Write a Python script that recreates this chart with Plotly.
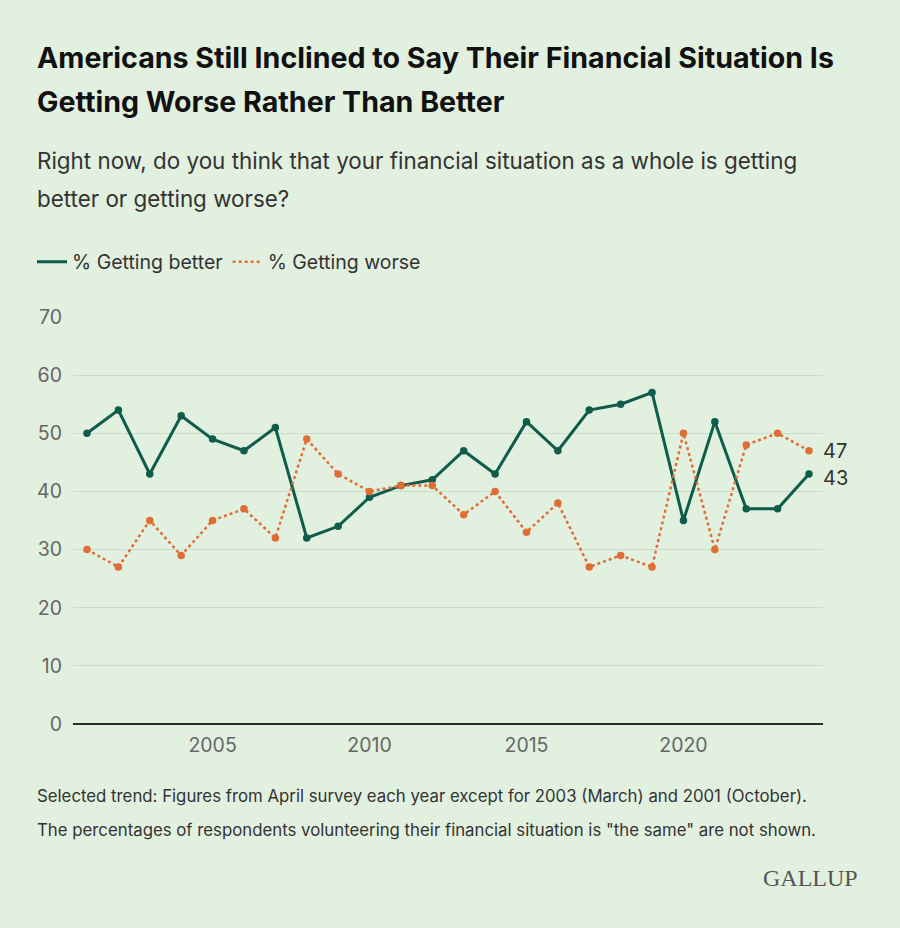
import plotly.graph_objects as go

years = list(range(2001, 2025))
better = [50, 54, 43, 53, 49, 47, 51, 32, 34, 39, 41, 42, 47, 43, 52, 47, 54, 55, 57, 35, 52, 37, 37, 43]
worse = [30, 27, 35, 29, 35, 37, 32, 49, 43, 40, 41, 41, 36, 40, 33, 38, 27, 29, 27, 50, 30, 48, 50, 47]
y_ticks = [0, 10, 20, 30, 40, 50, 60, 70]
x_ticks = [2005, 2010, 2015, 2020]
series_names = ["% Getting better", "% Getting worse"]

TEAL = "#0f5c4b"
ORANGE = "#e06d35"
BG = "#e2f0df"
FONT = "Inter"

# plot area in pixels
L, R, T, B = 73, 823, 317, 724
W, H = 900, 928

def px(x):
    return (x - L) / (R - L)

def py(y):
    return (B - y) / (B - T)

fig = go.Figure()
fig.add_trace(go.Scatter(
    x=years, y=better, mode="lines+markers", name=series_names[0],
    line=dict(color=TEAL, width=3), marker=dict(color=TEAL, size=7.5),
    cliponaxis=False, showlegend=False,
))
fig.add_trace(go.Scatter(
    x=years, y=worse, mode="lines+markers", name=series_names[1],
    line=dict(color=ORANGE, width=2.5, dash="dot"), marker=dict(color=ORANGE, size=7.5),
    cliponaxis=False, showlegend=False,
))
# legend entries (line-only samples)
fig.add_trace(go.Scatter(x=[None], y=[None], mode="lines", name=series_names[0],
                         line=dict(color=TEAL, width=3)))
fig.add_trace(go.Scatter(x=[None], y=[None], mode="lines", name=series_names[1],
                         line=dict(color=ORANGE, width=2.5, dash="dot")))

ann = []
def text(x, y, s, size, color="#333333", bold=False, family=FONT, xanchor="left"):
    if bold:
        s = "<b>" + s + "</b>"
    ann.append(dict(xref="paper", yref="paper", x=px(x), y=py(y), text=s,
                    showarrow=False, xanchor=xanchor, yanchor="middle",
                    font=dict(size=size, color=color, family=family)))

text(35, 58, "Americans Still Inclined to Say Their Financial Situation Is", 28.6, "#111111", True)
text(35, 102, "Getting Worse Rather Than Better", 28.6, "#111111", True)
text(35, 160, "Right now, do you think that your financial situation as a whole is getting", 22.4, "#333333")
text(35, 199, "better or getting worse?", 22.4, "#333333")
text(35, 796, "Selected trend: Figures from April survey each year except for 2003 (March) and 2001 (October).", 16.8, "#333333")
text(35, 830, "The percentages of respondents volunteering their financial situation is \"the same\" are not shown.", 16.8, "#333333")
text(860, 878, "GALLUP", 24, "#555555", False, "Liberation Serif", "right")

# end labels
ann.append(dict(x=years[-1], y=worse[-1], text=str(worse[-1]), showarrow=False,
                xanchor="left", yanchor="middle", xshift=12, yshift=0,
                font=dict(size=20, color="#333333", family=FONT)))
ann.append(dict(x=years[-1], y=better[-1], text=str(better[-1]), showarrow=False,
                xanchor="left", yanchor="middle", xshift=12, yshift=-4,
                font=dict(size=20, color="#333333", family=FONT)))

span = years[-1] - years[0]
unit = (R - L - 28) / span  # px per year
pad = 14 / unit

fig.update_layout(
    width=W, height=H,
    paper_bgcolor=BG, plot_bgcolor=BG,
    margin=dict(l=L, r=W - R, t=T, b=H - B, pad=0),
    font=dict(family=FONT, color="#666666", size=19.5),
    showlegend=True,
    legend=dict(orientation="h", x=px(32), y=py(262), xanchor="left", yanchor="middle",
                font=dict(size=19.5, color="#333333", family=FONT), itemwidth=30,
                bgcolor="rgba(0,0,0,0)", traceorder="normal"),
    annotations=ann,
    xaxis=dict(range=[years[0] - pad, years[-1] + pad], tickvals=x_ticks,
               ticktext=[str(t) for t in x_ticks], showgrid=False, zeroline=False,
               showline=False, ticks="", ticklabelstandoff=7,
               tickfont=dict(size=19.5, color="#666666"), fixedrange=True),
    yaxis=dict(range=[0, 70], tickvals=y_ticks, showgrid=True, gridcolor="#cbdcc8",
               gridwidth=1, zeroline=True, zerolinecolor="#2b2b2b", zerolinewidth=1.5,
               showline=False, ticks="", ticklabelstandoff=10,
               tickfont=dict(size=19.5, color="#666666"), fixedrange=True),
)

fig.write_html("out.html", config={"displayModeBar": False},
               post_script="document.body.style.margin='0';")
